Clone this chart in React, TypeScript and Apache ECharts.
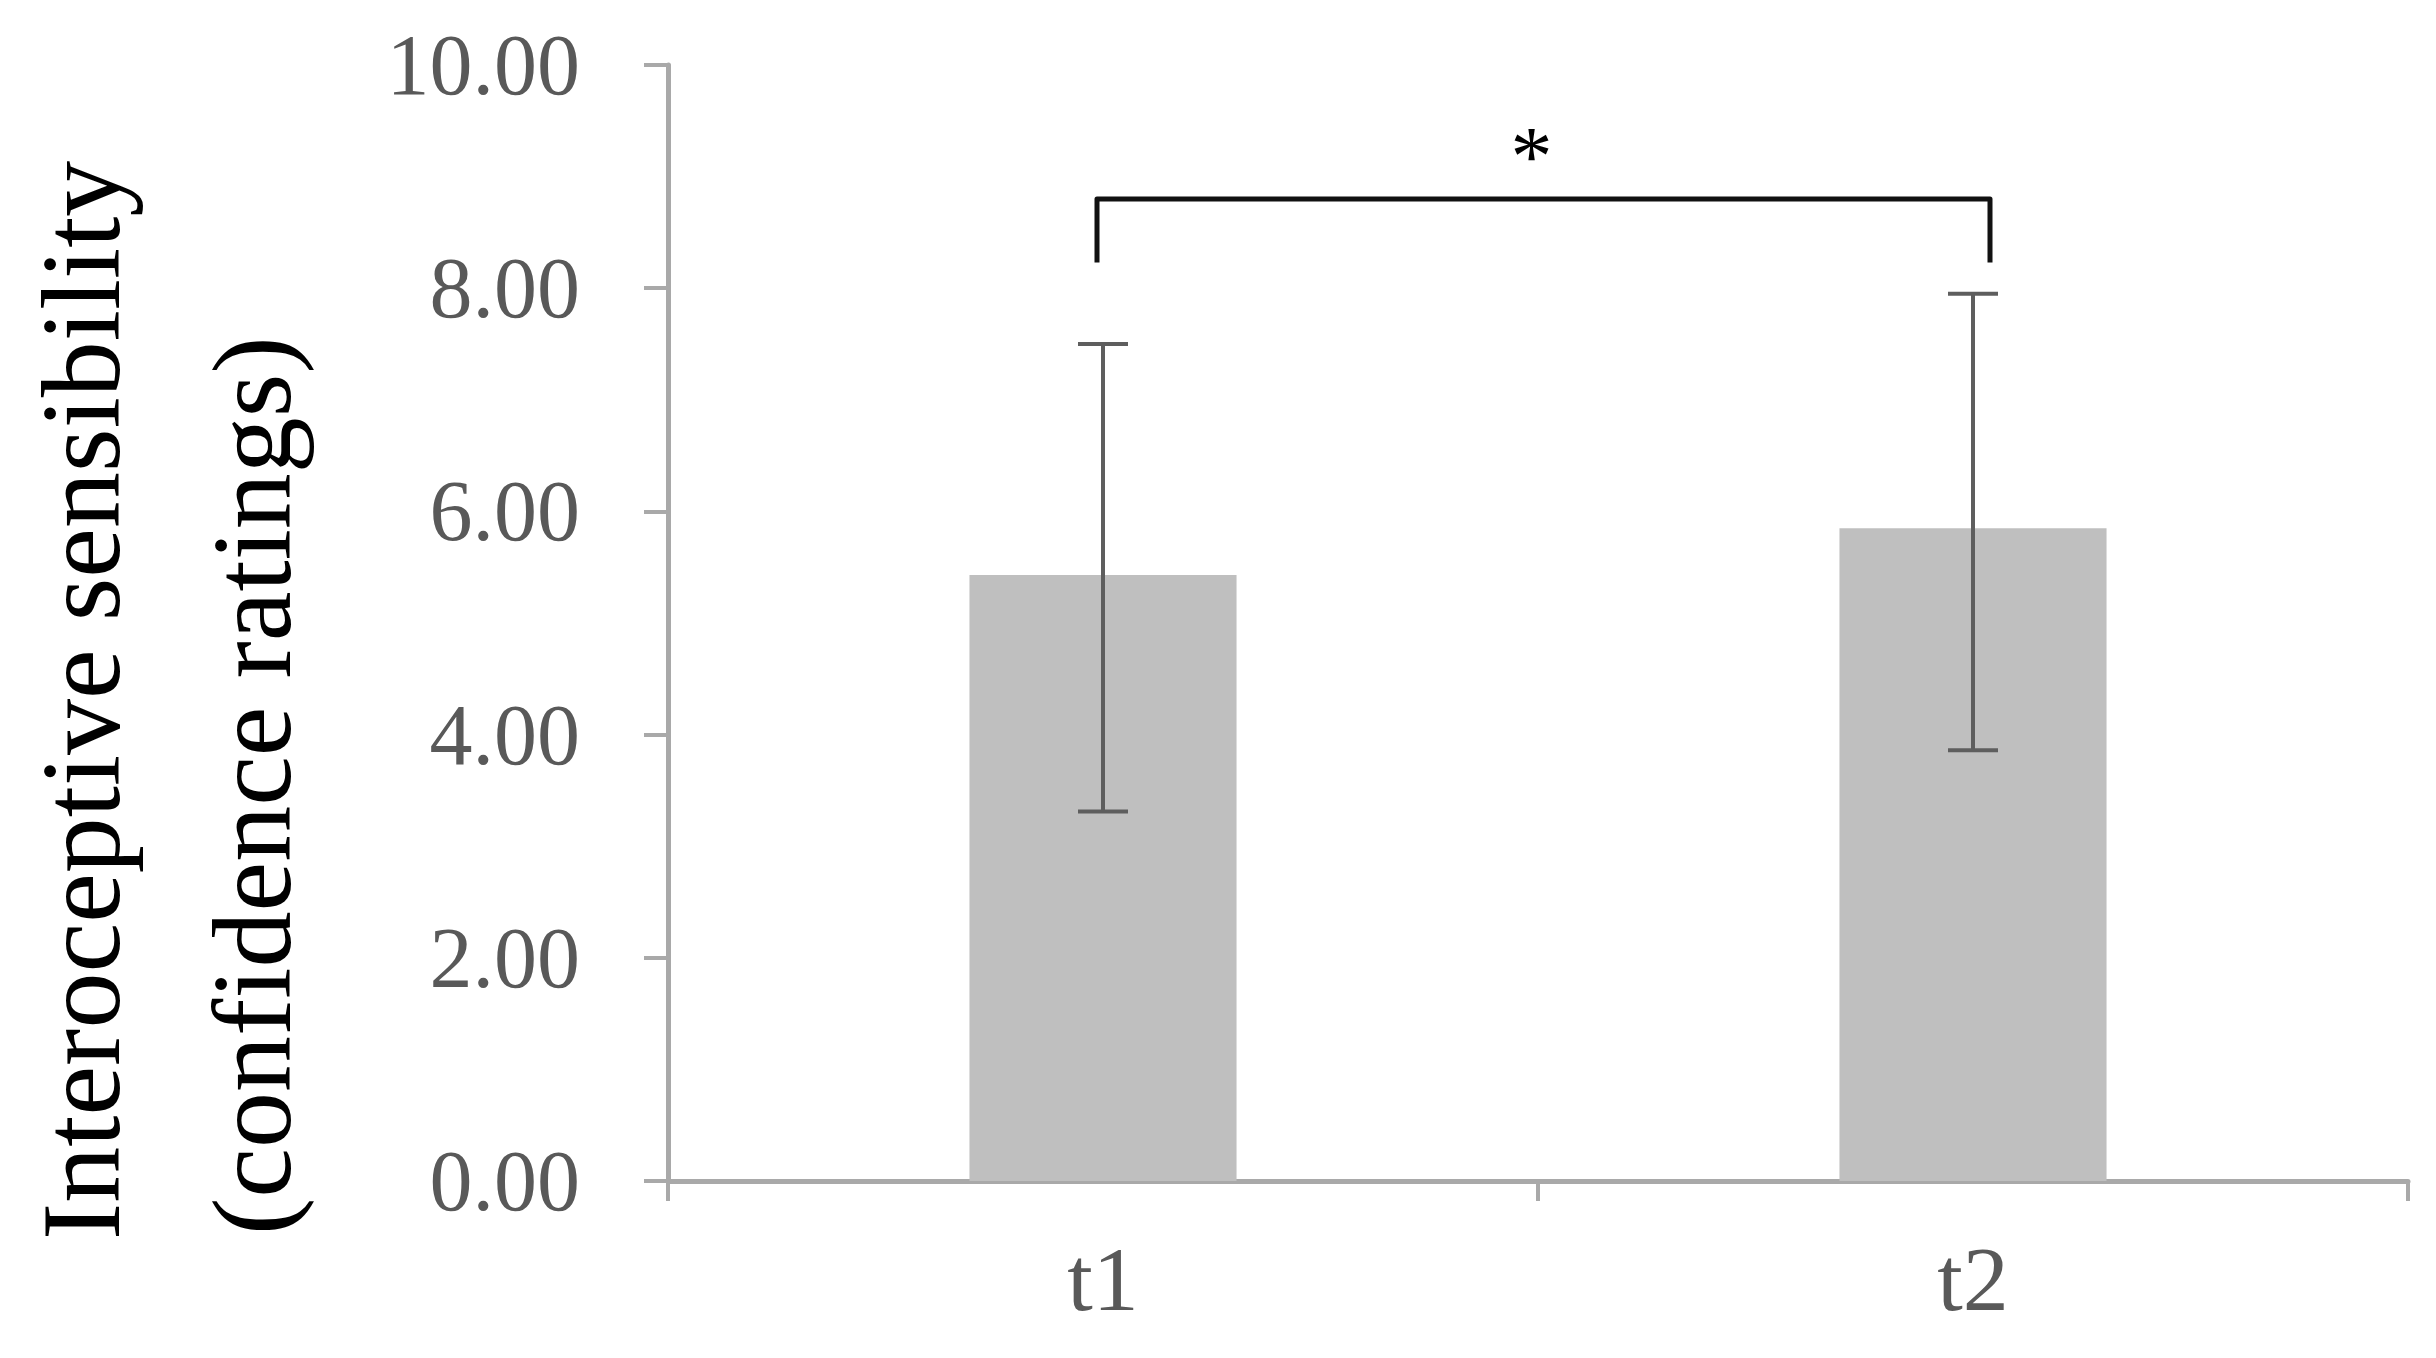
import React, { useEffect, useRef } from "react";
import * as echarts from "echarts";

const categories = ["t1", "t2"];
const means = [5.43, 5.85];
const errLow = [3.31, 3.86];
const errHigh = [7.5, 7.95];
const yMin = 0;
const yMax = 10;
const yInterval = 2;
const titleLines = ["Interoceptive sensibility", "(confidence ratings)"];
const sigPair = [0, 1];
const sigLabel = "*";
const bracketTop = 8.8;
const bracketEnd = 8.23;
const starLevel = 9.18;

const FONT = "'Liberation Serif', 'Times New Roman', serif";

export default function App() {
  const ref = useRef<HTMLDivElement>(null);
  useEffect(() => {
    if (!ref.current) return;
    const chart = echarts.init(ref.current, undefined, { renderer: "svg" });
    const option: any = {
      animation: false,
      backgroundColor: "#ffffff",
      grid: { left: 668, right: 28, top: 65, bottom: 177, containLabel: false },
      xAxis: {
        type: "category",
        data: categories,
        axisLine: { lineStyle: { color: "#a9a9a9", width: 5 } },
        axisTick: { show: true, length: 20, lineStyle: { color: "#a9a9a9", width: 4 } },
        axisLabel: { color: "#595959", fontFamily: FONT, fontSize: 92, margin: 52 },
      },
      yAxis: {
        type: "value",
        min: yMin,
        max: yMax,
        interval: yInterval,
        splitLine: { show: false },
        axisLine: { show: true, lineStyle: { color: "#a9a9a9", width: 5 } },
        axisTick: { show: true, length: 24, lineStyle: { color: "#a9a9a9", width: 4 } },
        axisLabel: {
          color: "#595959",
          fontFamily: FONT,
          fontSize: 86,
          margin: 88,
          formatter: (v: number) => v.toFixed(2),
        },
      },
      graphic: [
        {
          type: "text",
          x: 137,
          y: 1240,
          rotation: Math.PI / 2,
          style: {
            text: titleLines[0],
            fontFamily: FONT,
            fontSize: 112,
            fill: "#000000",
            align: "left",
            verticalAlign: "bottom",
          },
        },
        {
          type: "text",
          x: 308,
          y: 1235,
          rotation: Math.PI / 2,
          style: {
            text: titleLines[1],
            fontFamily: FONT,
            fontSize: 112,
            fill: "#000000",
            align: "left",
            verticalAlign: "bottom",
          },
        },
      ],
      series: [
        {
          type: "bar",
          data: means,
          barCategoryGap: "69.3%",
          itemStyle: { color: "#bfbfbf" },
          z: 2,
        },
        {
          type: "custom",
          z: 5,
          data: categories.map((_, i) => [i, errLow[i], errHigh[i]]),
          encode: { x: 0, y: [1, 2] },
          renderItem: (params: any, api: any) => {
            const x = api.value(0);
            const pLo = api.coord([x, api.value(1)]);
            const pHi = api.coord([x, api.value(2)]);
            const half = 25;
            const st = { stroke: "#5e5e5e", lineWidth: 4 };
            return {
              type: "group",
              children: [
                { type: "line", z2: 10, shape: { x1: pLo[0], y1: pLo[1], x2: pHi[0], y2: pHi[1] }, style: st },
                { type: "line", z2: 10, shape: { x1: pHi[0] - half, y1: pHi[1], x2: pHi[0] + half, y2: pHi[1] }, style: st },
                { type: "line", z2: 10, shape: { x1: pLo[0] - half, y1: pLo[1], x2: pLo[0] + half, y2: pLo[1] }, style: st },
              ],
            };
          },
        },
        {
          type: "custom",
          z: 5,
          data: [[sigPair[0], sigPair[1], bracketTop, bracketEnd, starLevel]],
          encode: { x: [0, 1], y: [2, 3, 4] },
          renderItem: (params: any, api: any) => {
            const p0 = api.coord([api.value(0), api.value(2)]);
            const p1 = api.coord([api.value(1), api.value(2)]);
            const endY = api.coord([api.value(0), api.value(3)])[1];
            const starY = api.coord([api.value(0), api.value(4)])[1];
            const xl = p0[0] - 6;
            const xr = p1[0] + 17;
            return {
              type: "group",
              children: [
                {
                  type: "polyline",
                  shape: { points: [[xl, endY], [xl, p0[1]], [xr, p1[1]], [xr, endY]] },
                  style: { stroke: "#111111", lineWidth: 5, fill: "none", lineJoin: "round" },
                },
                {
                  type: "text",
                  x: (xl + xr) / 2 - 12,
                  y: starY,
                  style: {
                    text: sigLabel,
                    fontFamily: FONT,
                    fontSize: 84,
                    fill: "#000000",
                    align: "center",
                    verticalAlign: "middle",
                  },
                },
              ],
            };
          },
        },
      ],
    };
    chart.setOption(option);
    return () => chart.dispose();
  }, []);
  return (
    <div
      ref={ref}
      style={{ position: "fixed", left: 0, top: 0, width: 2436, height: 1358, background: "#fff" }}
    />
  );
}
